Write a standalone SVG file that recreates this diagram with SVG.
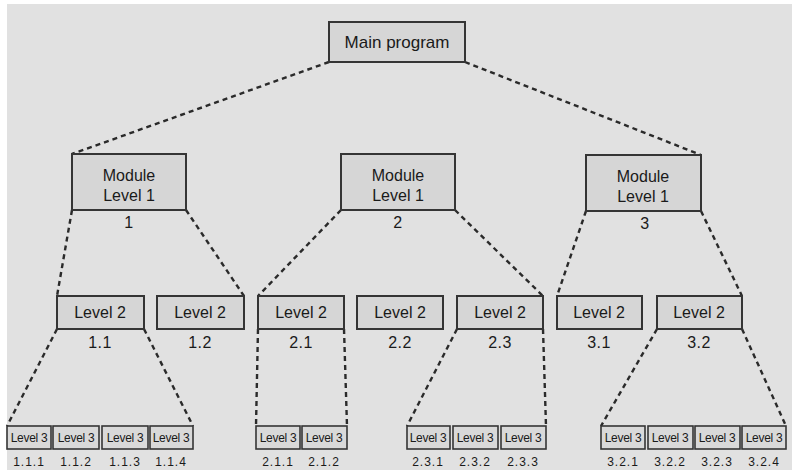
<svg xmlns="http://www.w3.org/2000/svg" width="797" height="470" viewBox="0 0 797 470">
  <style>
    .bg { fill: #e1e1e1; }
    .box { fill: #d6d6d6; stroke: #353535; stroke-width: 2; }
    .box3 { fill: #d9d9d9; stroke: #353535; stroke-width: 1.6; }
    .t { font-family: "Liberation Sans", Arial, sans-serif; fill: #1a1a1a; text-anchor: middle; }
    .t17 { font-size: 17px; }
    .t16 { font-size: 16px; }
    .num { font-size: 16px; letter-spacing: 0.5px; }
    .t12 { font-size: 12px; letter-spacing: -0.3px; }
    .n12 { font-size: 12px; letter-spacing: 1px; }
    .link { fill: none; stroke: #2a2a2a; stroke-width: 2.4; stroke-dasharray: 5 4; }
  </style>
  <rect width="797" height="470" fill="#ffffff"/>
  <rect class="bg" x="7" y="4" width="785" height="466"/>

  <!-- dashed connectors -->
  <g id="connectors">
    <line class="link" x1="329" y1="62" x2="72" y2="154"/>
    <line class="link" x1="465" y1="62" x2="701" y2="155"/>
    <line class="link" x1="72" y1="210" x2="57" y2="296"/>
    <line class="link" x1="186" y1="210" x2="244" y2="296"/>
    <line class="link" x1="341" y1="210" x2="258" y2="296"/>
    <line class="link" x1="455" y1="210" x2="543" y2="296"/>
    <line class="link" x1="586" y1="211" x2="557" y2="296"/>
    <line class="link" x1="701" y1="211" x2="742" y2="296"/>
    <line class="link" x1="57" y1="329" x2="7" y2="426"/>
    <line class="link" x1="144" y1="329" x2="193" y2="426"/>
    <line class="link" x1="258" y1="329" x2="256" y2="426"/>
    <line class="link" x1="344" y1="329" x2="347" y2="426"/>
    <line class="link" x1="457" y1="329" x2="407" y2="426"/>
    <line class="link" x1="543" y1="329" x2="546" y2="426"/>
    <line class="link" x1="657" y1="329" x2="601" y2="426"/>
    <line class="link" x1="742" y1="329" x2="786" y2="426"/>
  </g>

  <!-- top -->
  <g id="main">
    <rect class="box" x="329" y="22" width="136" height="40"/>
    <text class="t t17" x="397" y="48">Main program</text>
  </g>

  <!-- level 1 modules -->
  <g id="m1">
    <rect class="box" x="72" y="154" width="114" height="56"/>
    <text class="t t16" x="129" y="181">Module</text>
    <text class="t t16" x="129" y="201">Level 1</text>
    <text class="t num" x="129" y="228">1</text>
  </g>
  <g id="m2">
    <rect class="box" x="341" y="154" width="114" height="56"/>
    <text class="t t16" x="398" y="181">Module</text>
    <text class="t t16" x="398" y="201">Level 1</text>
    <text class="t num" x="398" y="228">2</text>
  </g>
  <g id="m3">
    <rect class="box" x="586" y="155" width="115" height="56"/>
    <text class="t t16" x="643" y="182">Module</text>
    <text class="t t16" x="643" y="202">Level 1</text>
    <text class="t num" x="645" y="229">3</text>
  </g>

  <!-- level 2 modules -->
  <g id="n1-1"><rect class="box" x="57" y="296" width="87" height="33"/><text class="t t16" x="100" y="318">Level 2</text><text class="t num" x="100" y="348">1.1</text></g>
  <g id="n1-2"><rect class="box" x="157" y="296" width="87" height="33"/><text class="t t16" x="200" y="318">Level 2</text><text class="t num" x="200" y="348">1.2</text></g>
  <g id="n2-1"><rect class="box" x="258" y="296" width="86" height="33"/><text class="t t16" x="301" y="318">Level 2</text><text class="t num" x="301" y="348">2.1</text></g>
  <g id="n2-2"><rect class="box" x="357" y="296" width="86" height="33"/><text class="t t16" x="400" y="318">Level 2</text><text class="t num" x="400" y="348">2.2</text></g>
  <g id="n2-3"><rect class="box" x="457" y="296" width="86" height="33"/><text class="t t16" x="500" y="318">Level 2</text><text class="t num" x="500" y="348">2.3</text></g>
  <g id="n3-1"><rect class="box" x="557" y="296" width="85" height="33"/><text class="t t16" x="599" y="318">Level 2</text><text class="t num" x="599" y="348">3.1</text></g>
  <g id="n3-2"><rect class="box" x="657" y="296" width="85" height="33"/><text class="t t16" x="699" y="318">Level 2</text><text class="t num" x="699" y="348">3.2</text></g>

  <!-- level 3 modules -->
  <g id="n1-1-1"><rect class="box3" x="7" y="426" width="44" height="23"/><text class="t t12" x="29" y="442">Level 3</text><text class="t n12" x="29" y="466">1.1.1</text></g>
  <g id="n1-1-2"><rect class="box3" x="53" y="426" width="46" height="23"/><text class="t t12" x="76" y="442">Level 3</text><text class="t n12" x="76" y="466">1.1.2</text></g>
  <g id="n1-1-3"><rect class="box3" x="102" y="426" width="46" height="23"/><text class="t t12" x="125" y="442">Level 3</text><text class="t n12" x="125" y="466">1.1.3</text></g>
  <g id="n1-1-4"><rect class="box3" x="150" y="426" width="43" height="23"/><text class="t t12" x="171" y="442">Level 3</text><text class="t n12" x="171" y="466">1.1.4</text></g>
  <g id="n2-1-1"><rect class="box3" x="256" y="426" width="44" height="23"/><text class="t t12" x="278" y="442">Level 3</text><text class="t n12" x="278" y="466">2.1.1</text></g>
  <g id="n2-1-2"><rect class="box3" x="302" y="426" width="45" height="23"/><text class="t t12" x="324" y="442">Level 3</text><text class="t n12" x="324" y="466">2.1.2</text></g>
  <g id="n2-3-1"><rect class="box3" x="407" y="426" width="43" height="23"/><text class="t t12" x="428" y="442">Level 3</text><text class="t n12" x="428" y="466">2.3.1</text></g>
  <g id="n2-3-2"><rect class="box3" x="453" y="426" width="45" height="23"/><text class="t t12" x="475" y="442">Level 3</text><text class="t n12" x="475" y="466">2.3.2</text></g>
  <g id="n2-3-3"><rect class="box3" x="501" y="426" width="45" height="23"/><text class="t t12" x="523" y="442">Level 3</text><text class="t n12" x="523" y="466">2.3.3</text></g>
  <g id="n3-2-1"><rect class="box3" x="601" y="426" width="44" height="23"/><text class="t t12" x="623" y="442">Level 3</text><text class="t n12" x="623" y="466">3.2.1</text></g>
  <g id="n3-2-2"><rect class="box3" x="648" y="426" width="45" height="23"/><text class="t t12" x="670" y="442">Level 3</text><text class="t n12" x="670" y="466">3.2.2</text></g>
  <g id="n3-2-3"><rect class="box3" x="695" y="426" width="45" height="23"/><text class="t t12" x="717" y="442">Level 3</text><text class="t n12" x="717" y="466">3.2.3</text></g>
  <g id="n3-2-4"><rect class="box3" x="742" y="426" width="44" height="23"/><text class="t t12" x="764" y="442">Level 3</text><text class="t n12" x="764" y="466">3.2.4</text></g>
</svg>
